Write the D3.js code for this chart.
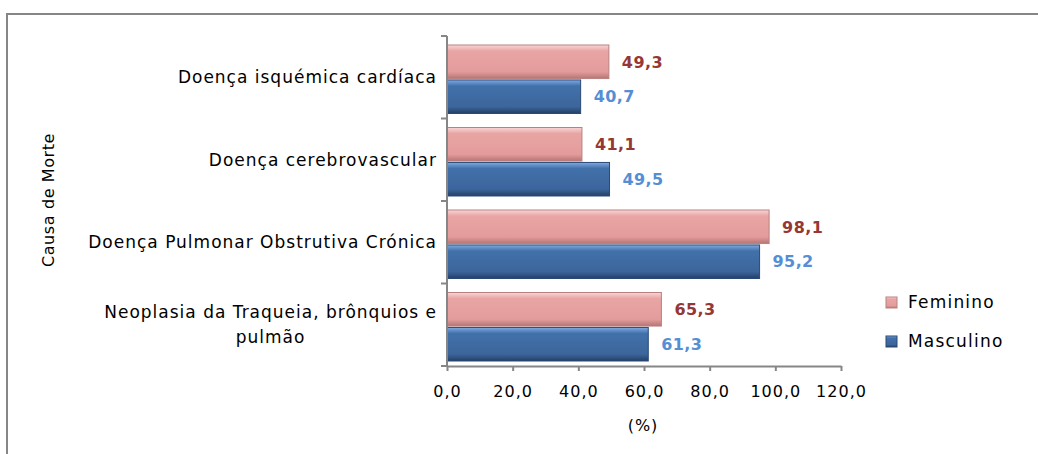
<!DOCTYPE html>
<html>
<head>
<meta charset="utf-8">
<script src="https://cdn.jsdelivr.net/npm/d3@7"></script>
<style>
  body { margin: 0; background: #fff; }
  svg { display: block; }
</style>
</head>
<body>
<div id="chart"></div>
<script>
// chart data
const categories = [
    "Doença isquémica cardíaca",
    "Doença cerebrovascular",
    "Doença Pulmonar Obstrutiva Crónica",
    "Neoplasia da Traqueia, brônquios e|pulmão"
];
const series = ["Feminino", "Masculino"];
const feminino = [49.3, 41.1, 98.1, 65.3];
const masculino = [40.7, 49.5, 95.2, 61.3];
const xTicks = [0, 20, 40, 60, 80, 100, 120];

const WIDTH = 1038;
const HEIGHT = 454;
const PLOT = { LEFT: 447, RIGHT: 841, TOP: 36, BOTTOM: 366 };
const FONT = "'DejaVu Sans', Verdana, sans-serif";

const data = categories.map((c, i) => ({ cat: c, values: [feminino[i], masculino[i]] }));

let svg = d3.select("#chart").append("svg")
    .attr("width", WIDTH)
    .attr("height", HEIGHT);

// gradients for the bevelled bars
let defs = svg.append("defs");
const grads = {
    Feminino: [["0%", "#f9d6d6"], ["18%", "#e8a5a4"], ["80%", "#e39c9b"], ["100%", "#b57574"]],
    Masculino: [["0%", "#80aae2"], ["18%", "#4271aa"], ["80%", "#3c659b"], ["100%", "#233f66"]]
};
Object.keys(grads).forEach(k => {
    let g = defs.append("linearGradient")
        .attr("id", "g-" + k)
        .attr("x1", 0).attr("y1", 0).attr("x2", 0).attr("y2", 1);
    grads[k].forEach(s => g.append("stop").attr("offset", s[0]).attr("stop-color", s[1]));
});

let colors = d3.scaleOrdinal().domain(series).range(["#b88180", "#2a4a76"]);
let labelColors = d3.scaleOrdinal().domain(series).range(["#953735", "#558ed5"]);

// outer frame
svg.append("path")
    .attr("d", `M7,${HEIGHT} L7,14 L${WIDTH},14`)
    .attr("fill", "none")
    .attr("stroke", "#868686")
    .attr("stroke-width", 2);

let xScale = d3.scaleLinear()
    .domain([0, 120])
    .range([PLOT.LEFT, PLOT.RIGHT]);

let yScale = d3.scaleBand()
    .domain(categories)
    .range([PLOT.TOP, PLOT.BOTTOM]);

let sub = d3.scaleBand()
    .domain(series)
    .range([9, yScale.bandwidth() - 5])
    .paddingInner(0.04);

// bars
let groups = svg.selectAll(".cat")
    .data(data)
    .enter().append("g")
    .attr("class", "cat")
    .attr("transform", d => `translate(0,${yScale(d.cat)})`);

groups.selectAll("rect")
    .data(d => d.values.map((v, i) => ({ key: series[i], v: v })))
    .enter().append("rect")
    .attr("x", xScale(0))
    .attr("y", d => sub(d.key))
    .attr("width", d => xScale(d.v) - xScale(0))
    .attr("height", sub.bandwidth())
    .attr("fill", d => `url(#g-${d.key})`)
    .attr("stroke", d => colors(d.key))
    .attr("stroke-width", 1);

groups.selectAll(".val")
    .data(d => d.values.map((v, i) => ({ key: series[i], v: v })))
    .enter().append("text")
    .attr("class", "val")
    .attr("x", d => xScale(d.v) + 13)
    .attr("y", d => sub(d.key) + sub.bandwidth() / 2)
    .attr("dy", "0.36em")
    .attr("font-family", FONT)
    .attr("font-weight", "bold")
    .attr("font-size", 16)
    .attr("letter-spacing", 0.4)
    .attr("fill", d => labelColors(d.key))
    .text(d => d3.format(".1f")(d.v).replace(".", ","));

// axes
let xAxis = d3.axisBottom(xScale)
    .tickValues(xTicks)
    .tickSize(5)
    .tickSizeOuter(0)
    .tickFormat(d => d3.format(".1f")(d).replace(".", ","));

let gx = svg.append("g")
    .attr("transform", `translate(0,${PLOT.BOTTOM})`)
    .call(xAxis);
gx.select(".domain").attr("stroke", "#868686").attr("stroke-width", 2);
gx.selectAll(".tick line").attr("stroke", "#868686").attr("stroke-width", 2);
gx.selectAll(".tick text")
    .attr("y", 20)
    .attr("font-family", FONT)
    .attr("font-size", 16)
    .attr("letter-spacing", 1)
    .attr("fill", "#000");

let gy = svg.append("g");
gy.append("line")
    .attr("x1", PLOT.LEFT).attr("x2", PLOT.LEFT)
    .attr("y1", PLOT.TOP).attr("y2", PLOT.BOTTOM)
    .attr("stroke", "#868686").attr("stroke-width", 2);
gy.selectAll(".ytick")
    .data(categories.map(c => yScale(c)).concat([PLOT.BOTTOM]))
    .enter().append("line")
    .attr("x1", PLOT.LEFT - 6).attr("x2", PLOT.LEFT)
    .attr("y1", d => d).attr("y2", d => d)
    .attr("stroke", "#868686").attr("stroke-width", 2);

// category labels (centered multi-line, right edge at the axis)
categories.forEach(c => {
    let lines = c.split("|");
    let t = svg.append("text")
        .attr("font-family", FONT)
        .attr("font-size", 17)
        .attr("letter-spacing", 1)
        .attr("fill", "#000");
    let cy = yScale(c) + yScale.bandwidth() / 2;
    lines.forEach(l => {
        t.append("tspan").text(l);
    });
    let spans = t.selectAll("tspan").nodes();
    let maxW = d3.max(spans, s => s.getComputedTextLength());
    let right = PLOT.LEFT - 10;
    spans.forEach((s, i) => {
        d3.select(s)
            .attr("text-anchor", "middle")
            .attr("x", right - maxW / 2)
            .attr("y", cy + (i - (lines.length - 1) / 2) * 25)
            .attr("dy", "0.36em");
    });
});

// axis titles
svg.append("text")
    .attr("x", 643)
    .attr("y", 431)
    .attr("text-anchor", "middle")
    .attr("font-family", FONT)
    .attr("font-size", 16)
    .attr("letter-spacing", 1)
    .text("(%)");

svg.append("text")
    .attr("transform", "translate(54,200) rotate(-90)")
    .attr("text-anchor", "middle")
    .attr("font-family", FONT)
    .attr("font-size", 16)
    .attr("letter-spacing", 0.6)
    .text("Causa de Morte");

// legend
let legend = svg.selectAll(".legend")
    .data(series)
    .enter().append("g")
    .attr("class", "legend")
    .attr("transform", (d, i) => `translate(891,${302 + i * 39})`);

legend.append("rect")
    .attr("x", -5).attr("y", -5)
    .attr("width", 11).attr("height", 11)
    .attr("fill", d => `url(#g-${d})`)
    .attr("stroke", d => colors(d));

legend.append("text")
    .attr("x", 17)
    .attr("dy", "0.36em")
    .attr("font-family", FONT)
    .attr("font-size", 17)
    .attr("letter-spacing", 1.2)
    .text(d => d);
</script>
</body>
</html>
